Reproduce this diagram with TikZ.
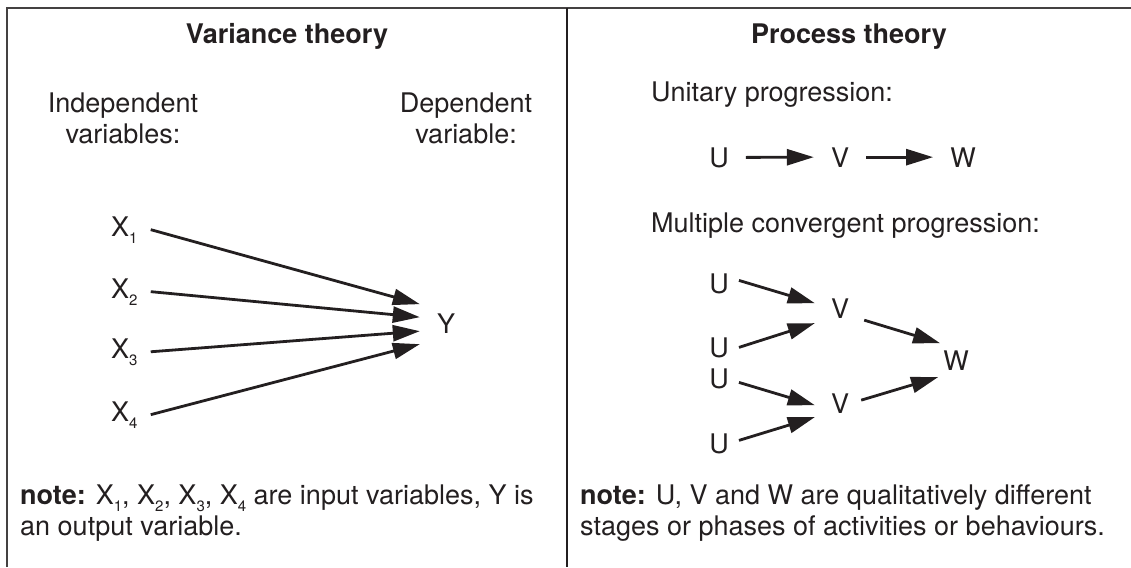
\documentclass[tikz,border=0pt]{standalone}
\usepackage{fontspec}
\setmainfont{TeX Gyre Heros}
\usepackage{tikz}
\usetikzlibrary{arrows.meta}
\usetikzlibrary{positioning}
\definecolor{ink}{HTML}{231F20}
\newcommand{\xsub}[1]{\raisebox{-7pt}{\fontsize{15}{15}\selectfont #1}}

\begin{document}
\begin{tikzpicture}[x=1pt, y=-1pt,
    txt/.style={font=\fontsize{27}{31}\selectfont, inner sep=0pt, text=ink},
    heading/.style={txt, font=\fontsize{27}{31}\selectfont\bfseries},
    arr/.style={-{Triangle[length=27pt,width=16pt]}, line width=2.8pt, draw=ink},
    frame/.style={line width=1.5pt, draw=ink!85}]

    \useasboundingbox (0,0) rectangle (1131,567);

    % Frame and divider
    \draw[frame] (7,567) -- (7,8) -- (1131,8);
    \draw[frame, line width=2.6pt, draw=ink] (567,8) -- (567,567);

    % Variance theory
    \node[heading, anchor=base] (vt) at (287,44) {Variance theory};
    \node[txt, anchor=north, align=center] (indep) at (123,93) {Independent\\variables:};
    \node[txt, anchor=north, align=center] (dep) at (466,93) {Dependent\\variable:};

    \node[txt, anchor=base west] (x1) at (111,236) {X\xsub{1}};
    \node[txt, anchor=base west] (x2) at (111,298) {X\xsub{2}};
    \node[txt, anchor=base west] (x3) at (111,358) {X\xsub{3}};
    \node[txt, anchor=base west] (x4) at (111,421) {X\xsub{4}};
    \node[txt, anchor=base] (y) at (446,333) {Y};

    \draw[arr] ([xshift=13pt]x1.east) -- ([shift={(-17pt,19pt)}]y.west);
    \draw[arr] ([xshift=13pt]x2.east) -- ([shift={(-17pt,6pt)}]y.west);
    \draw[arr] ([xshift=13pt]x3.east) -- ([shift={(-17pt,-8pt)}]y.west);
    \draw[arr] ([xshift=13pt]x4.east) -- ([shift={(-17pt,-21pt)}]y.west);

    \node[txt, anchor=north west, align=left] (vnote) at (20,485)
        {\textbf{note:} X\xsub{1}, X\xsub{2}, X\xsub{3}, X\xsub{4} are input variables, Y is\\an output variable.};

    % Process theory
    \node[heading, anchor=base] (pt) at (849,44) {Process theory};
    \node[txt, anchor=base west] (unit) at (651,102) {Unitary progression:};

    % Unitary row
    \node[txt, anchor=base] (u0) at (719,167) {U};
    \node[txt, anchor=base] (v0) at (840,167) {V};
    \node[txt, anchor=base] (w0) at (963,167) {W};
    \draw[arr] ([xshift=17pt]u0.east) -- ([xshift=-17pt]v0.west);
    \draw[arr] ([xshift=17pt]v0.east) -- ([xshift=-17pt]w0.west);

    \node[txt, anchor=base west] (multi) at (651,232) {Multiple convergent progression:};

    % Convergent progression
    \node[txt, anchor=base] (u1) at (719,293) {U};
    \node[txt, anchor=base] (u2) at (719,357) {U};
    \node[txt, anchor=base] (u3) at (719,388) {U};
    \node[txt, anchor=base] (u4) at (719,453) {U};
    \node[txt, anchor=base] (v1) at (840,318) {V};
    \node[txt, anchor=base] (v2) at (840,413) {V};
    \node[txt, anchor=base] (w1) at (956,370) {W};

    \draw[arr] ([shift={(10pt,3pt)}]u1.east) -- ([shift={(-16pt,5pt)}]v1.west);
    \draw[arr] ([shift={(10pt,0pt)}]u2.east) -- ([shift={(-16pt,-15pt)}]v1.west);
    \draw[arr] ([shift={(10pt,-4pt)}]u3.east) -- ([shift={(-16pt,-2pt)}]v2.west);
    \draw[arr] ([shift={(10pt,3pt)}]u4.east) -- ([shift={(-16pt,-14pt)}]v2.west);
    \draw[arr] ([shift={(15pt,-12pt)}]v1.east) -- ([shift={(-3pt,17pt)}]w1.west);
    \draw[arr] ([shift={(12pt,3pt)}]v2.east) -- ([shift={(-5pt,-17pt)}]w1.west);

    \node[txt, anchor=north west, align=left] (pnote) at (580,485)
        {\textbf{note:} U, V and W are qualitatively different\\stages or phases of activities or behaviours.};

\end{tikzpicture}
\end{document}
